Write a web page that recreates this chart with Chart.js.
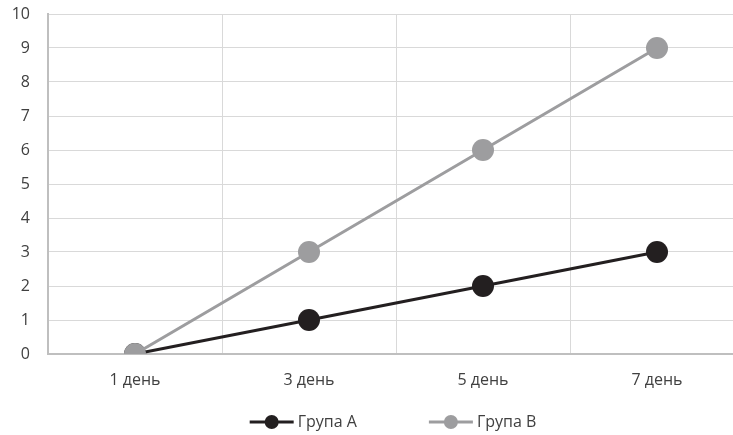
<!DOCTYPE html>
<html>
<head>
<meta charset="utf-8">
<script src="https://cdn.jsdelivr.net/npm/chart.js@4"></script>
<style>
  html, body { margin: 0; padding: 0; background: #ffffff; overflow: hidden; width: 733px; height: 435px; }
  canvas { display: block; }
</style>
</head>
<body>
<canvas id="chart" width="746" height="435"></canvas>
<script>
// Categories and series
const days = ['1 день', '3 день', '5 день', '7 день'];
const groupA = [0, 1, 2, 3];
const groupB = [0, 3, 6, 9];
const seriesNames = ['Група А', 'Група В'];
const yTicks = [0, 1, 2, 3, 4, 5, 6, 7, 8, 9, 10];

const colorA = '#231f20';
const colorB = '#9d9d9f';
const FONT = '"Open Sans", sans-serif';
const textColor = '#404040';

// Legend: short line with a circle in the middle, followed by the series name
const lineLegend = {
  id: 'lineLegend',
  afterDraw(chart) {
    const { ctx, chartArea } = chart;
    const items = chart.data.datasets.map(ds => ({ text: ds.label, color: ds.borderColor }));
    const lineLen = 44, textGap = 4, itemGap = 72, y = 422;
    ctx.save();
    ctx.font = '16px ' + FONT;
    const widths = items.map(it => lineLen + textGap + ctx.measureText(it.text).width);
    const total = widths.reduce((a, b) => a + b, 0) + itemGap * (items.length - 1);
    let x = (chartArea.left + chartArea.right) / 2 - 3 - total / 2;
    items.forEach((it, i) => {
      ctx.strokeStyle = it.color;
      ctx.lineWidth = 3;
      ctx.beginPath();
      ctx.moveTo(x, y);
      ctx.lineTo(x + lineLen, y);
      ctx.stroke();
      ctx.fillStyle = it.color;
      ctx.beginPath();
      ctx.arc(x + lineLen / 2, y, 7, 0, Math.PI * 2);
      ctx.fill();
      ctx.fillStyle = textColor;
      ctx.textBaseline = 'middle';
      ctx.textAlign = 'left';
      ctx.fillText(it.text, x + lineLen + textGap, y);
      x += widths[i] + itemGap;
    });
    ctx.restore();
  }
};

new Chart(document.getElementById('chart'), {
  type: 'line',
  data: {
    labels: days,
    datasets: [
      {
        label: seriesNames[0],
        data: groupA,
        borderColor: colorA,
        backgroundColor: colorA,
        borderWidth: 3,
        pointRadius: 11,
        pointHoverRadius: 11,
        pointBorderWidth: 0,
        order: 2
      },
      {
        label: seriesNames[1],
        data: groupB,
        borderColor: colorB,
        backgroundColor: colorB,
        borderWidth: 3,
        pointRadius: 11,
        pointHoverRadius: 11,
        pointBorderWidth: 0,
        order: 1
      }
    ]
  },
  options: {
    responsive: false,
    animation: false,
    layout: { autoPadding: false, padding: { top: 14, right: 2, left: 0, bottom: 0 } },
    plugins: {
      legend: { display: false },
      tooltip: { enabled: false }
    },
    scales: {
      x: {
        offset: true,
        grid: { offset: true, color: '#d9d9d9', lineWidth: 1, drawTicks: false },
        border: { color: '#bfbfbf', width: 2 },
        ticks: { color: textColor, font: { family: FONT, size: 16 }, padding: 17, maxRotation: 0 },
        afterFit(scale) { scale.height = 81; }
      },
      y: {
        min: 0,
        max: 10,
        afterBuildTicks(scale) { scale.ticks = yTicks.map(v => ({ value: v })); },
        grid: { color: '#d9d9d9', lineWidth: 1, drawTicks: true, tickLength: 18, tickColor: 'rgba(0,0,0,0)' },
        border: { color: '#bfbfbf', width: 2 },
        ticks: { color: textColor, font: { family: FONT, size: 16 }, padding: 0 },
        afterFit(scale) { scale.width = 48; }
      }
    }
  },
  plugins: [lineLegend]
});
</script>
</body>
</html>
